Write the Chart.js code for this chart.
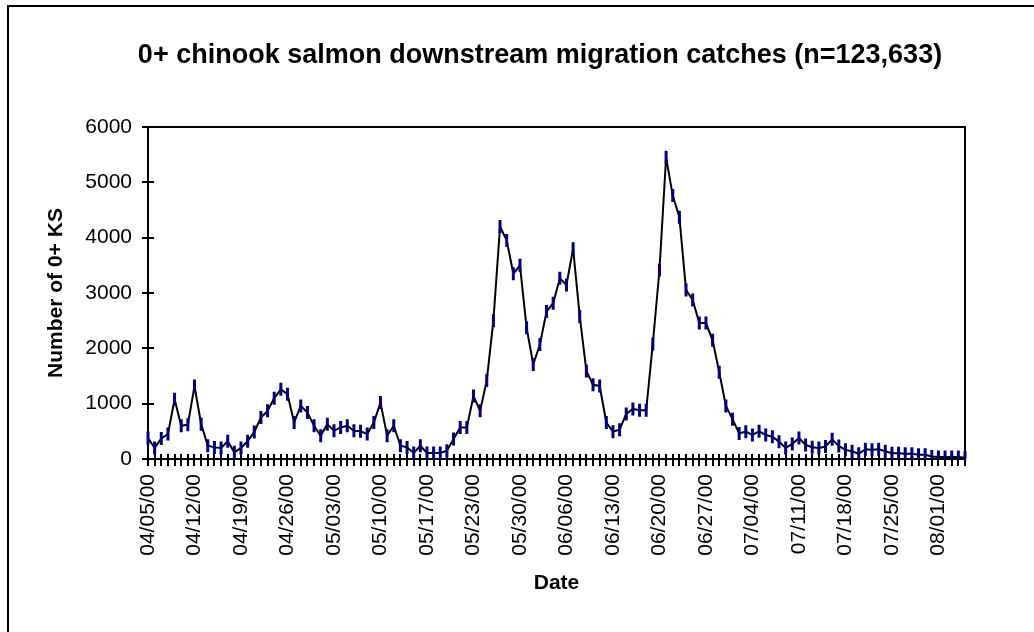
<!DOCTYPE html>
<html>
<head>
<meta charset="utf-8">
<script src="https://cdn.jsdelivr.net/npm/chart.js@4.4.1/dist/chart.umd.min.js"></script>
<style>
  html, body { margin: 0; padding: 0; background: #fff; overflow: hidden; }
  #wrap { position: relative; width: 1034px; height: 632px; }
  #frame { position: absolute; left: 7px; top: 5px; width: 1100px; height: 700px;
           border-left: 2px solid #000; border-top: 2px solid #000; pointer-events: none; }
  canvas { display: block; }
</style>
</head>
<body>
<div id="wrap">
  <canvas id="c" width="1034" height="632"></canvas>
  <div id="frame"></div>
</div>
<script>
const chartTitle = '0+ chinook salmon downstream migration catches (n=123,633)';
const xTitle = 'Date';
const yTitle = 'Number of 0+ KS';

const dates = [
  '04/05/00','04/06/00','04/07/00','04/08/00','04/09/00','04/10/00','04/11/00',
  '04/12/00','04/13/00','04/14/00','04/15/00','04/16/00','04/17/00','04/18/00',
  '04/19/00','04/20/00','04/21/00','04/22/00','04/23/00','04/24/00','04/25/00',
  '04/26/00','04/27/00','04/28/00','04/29/00','04/30/00','05/01/00','05/02/00',
  '05/03/00','05/04/00','05/05/00','05/06/00','05/07/00','05/08/00','05/09/00',
  '05/10/00','05/11/00','05/12/00','05/13/00','05/14/00','05/15/00','05/16/00',
  '05/17/00','05/18/00','05/19/00','05/20/00','05/20/00','05/21/00','05/22/00',
  '05/23/00','05/24/00','05/25/00','05/26/00','05/27/00','05/28/00','05/29/00',
  '05/30/00','05/31/00','06/01/00','06/02/00','06/03/00','06/04/00','06/05/00',
  '06/06/00','06/07/00','06/08/00','06/09/00','06/10/00','06/11/00','06/12/00',
  '06/13/00','06/14/00','06/15/00','06/16/00','06/17/00','06/18/00','06/19/00',
  '06/20/00','06/21/00','06/22/00','06/23/00','06/24/00','06/25/00','06/26/00',
  '06/27/00','06/28/00','06/29/00','06/30/00','07/01/00','07/02/00','07/03/00',
  '07/04/00','07/05/00','07/06/00','07/07/00','07/08/00','07/09/00','07/10/00',
  '07/11/00','07/12/00','07/13/00','07/14/00','07/15/00','07/16/00','07/17/00',
  '07/18/00','07/19/00','07/20/00','07/21/00','07/22/00','07/23/00','07/24/00',
  '07/25/00','07/26/00','07/27/00','07/28/00','07/29/00','07/30/00','07/31/00',
  '08/01/00','08/02/00','08/03/00','08/04/00','08/05/00'
];

const catches = [
  380, 200, 370, 450, 1080, 600, 620,
  1320, 630, 240, 210, 200, 320, 120,
  200, 320, 490, 750, 870, 1100, 1260,
  1170, 660, 960, 840, 600, 420, 630,
  510, 570, 600, 510, 500, 450, 660,
  1020, 420, 600, 240, 210, 110, 240,
  110, 110, 110, 150, 360, 570, 570,
  1140, 870, 1420, 2500, 4200, 3950, 3350,
  3500, 2370, 1710, 2070, 2665, 2815, 3265,
  3145, 3800, 2576, 1590, 1340, 1320, 660,
  494, 530, 815, 905, 880, 880, 2080,
  3415, 5450, 4760, 4370, 3055, 2875, 2456,
  2456, 2145, 1570, 960, 720, 463, 494,
  434, 500, 434, 403, 314, 200, 272,
  380, 255, 212, 200, 225, 355, 236,
  165, 140, 93, 176, 165, 176, 140,
  105, 105, 93, 93, 75, 75, 45,
  35, 35, 35, 35, 24
];

const yTickValues = [0, 1000, 2000, 3000, 4000, 5000, 6000];
const labelEvery = 7;

const FONT = "'Liberation Sans', Arial, Helvetica, sans-serif";

const framePlugin = {
  id: 'excelFrame',
  beforeDatasetsDraw(chart) {
    const {ctx, chartArea: a, scales: {x, y}} = chart;
    ctx.save();
    ctx.strokeStyle = '#000';
    ctx.lineWidth = 2;
    ctx.strokeRect(a.left, a.top, a.right - a.left, a.bottom - a.top);
    ctx.beginPath();
    for (let i = 0; i < dates.length; i++) {
      const px = Math.round(x.getPixelForValue(i));
      ctx.moveTo(px, a.bottom - 5);
      ctx.lineTo(px, a.bottom + 7);
    }
    for (const v of yTickValues) {
      const py = Math.round(y.getPixelForValue(v));
      ctx.moveTo(a.left - 6, py);
      ctx.lineTo(a.left + 6, py);
    }
    ctx.stroke();
    ctx.restore();
  }
};

new Chart(document.getElementById('c'), {
  type: 'line',
  data: {
    labels: dates,
    datasets: [{
      data: catches,
      borderColor: '#000',
      borderWidth: 2,
      tension: 0,
      fill: false,
      pointStyle: 'line',
      pointRotation: 90,
      pointRadius: 6.5,
      pointHoverRadius: 6.5,
      pointBorderColor: '#000080',
      pointBackgroundColor: '#000080',
      pointBorderWidth: 3
    }]
  },
  options: {
    responsive: false,
    animation: false,
    events: [],
    layout: { padding: { left: 46, right: 0, top: 0, bottom: 0 } },
    plugins: {
      legend: { display: false },
      tooltip: { enabled: false },
      title: {
        display: true,
        text: chartTitle,
        color: '#000',
        font: { family: FONT, size: 27, weight: 'bold', lineHeight: 1.2 },
        padding: { top: 39, bottom: 55.6 }
      }
    },
    scales: {
      x: {
        type: 'category',
        grid: { display: false, drawTicks: false },
        border: { display: false },
        ticks: {
          autoSkip: false,
          maxRotation: 90,
          minRotation: 90,
          padding: 15,
          color: '#000',
          font: { family: FONT, size: 21 },
          callback: (v, i) => (i % labelEvery === 0 ? dates[i] : '')
        },
        title: {
          display: true,
          text: xTitle,
          color: '#000',
          font: { family: FONT, size: 21, weight: 'bold', lineHeight: 1.2 },
          padding: { top: 0, bottom: 36 }
        },
        afterFit: s => { s.height = 173; }
      },
      y: {
        min: 0,
        max: 6000,
        grid: { display: false, drawTicks: false },
        border: { display: false },
        afterBuildTicks: s => { s.ticks = yTickValues.map(v => ({ value: v })); },
        ticks: {
          padding: 16,
          color: '#000',
          font: { family: FONT, size: 21 },
          callback: v => String(v)
        },
        title: {
          display: true,
          text: yTitle,
          color: '#000',
          font: { family: FONT, size: 21, weight: 'bold', lineHeight: 1.0 },
          padding: { top: 0, bottom: 0 }
        },
        afterFit: s => { s.width = 102; }
      },
      yRight: {
        type: 'linear',
        position: 'right',
        display: true,
        grid: { display: false, drawTicks: false },
        border: { display: false },
        ticks: { display: false },
        afterFit: s => { s.width = 69; }
      }
    }
  },
  plugins: [framePlugin]
});
</script>
</body>
</html>
